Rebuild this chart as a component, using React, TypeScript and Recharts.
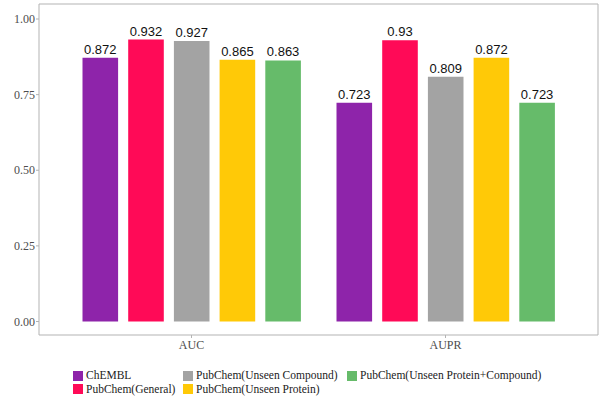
import { BarChart, Bar, XAxis, YAxis, LabelList } from "recharts";

const metrics = ["AUC", "AUPR"];
const chembl = [0.872, 0.723];
const pubGeneral = [0.932, 0.93];
const pubUnseenCompound = [0.927, 0.809];
const pubUnseenProtein = [0.865, 0.872];
const pubUnseenBoth = [0.863, 0.723];
const yTicks = [0, 0.25, 0.5, 0.75, 1];

const series = [
  { key: "chembl", name: "ChEMBL", color: "#8E24AA", values: chembl },
  { key: "general", name: "PubChem(General)", color: "#FF0A57", values: pubGeneral },
  { key: "unseenCompound", name: "PubChem(Unseen Compound)", color: "#A3A3A3", values: pubUnseenCompound },
  { key: "unseenProtein", name: "PubChem(Unseen Protein)", color: "#FFC907", values: pubUnseenProtein },
  { key: "unseenBoth", name: "PubChem(Unseen Protein+Compound)", color: "#66BB6A", values: pubUnseenBoth },
];

const data = metrics.map((m, i) => {
  const row: Record<string, string | number> = { metric: m };
  series.forEach((s) => {
    row[s.key] = s.values[i];
  });
  return row;
});

// legend laid out like ggplot's 2-row guide
const legendSlots = [
  { left: 73, top: 369 },
  { left: 73, top: 382.5 },
  { left: 183, top: 369 },
  { left: 183, top: 382.5 },
  { left: 347, top: 369 },
];

const BORDER = "#b3b3b3";
const serif = "'Liberation Serif', 'DejaVu Serif', serif";
const domain: [number, number] = [-0.0446, 1.0496];
const tickStyle = { fill: "#4d4d4d", fontFamily: serif, fontSize: 12, style: { fontFamily: serif } };

const YTick = (props: any) => {
  const { x, y, payload } = props;
  return (
    <text x={x} y={y} dy="0.35em" textAnchor="end" fill="#4d4d4d" fontSize={12} style={{ fontFamily: serif }}>
      {Number(payload.value).toFixed(2)}
    </text>
  );
};

export default function App() {
  return (
    <div style={{ position: "fixed", left: 0, top: 0, width: 602, height: 401, background: "#fff", fontFamily: serif }}>
      <BarChart
        width={602}
        height={401}
        data={data}
        margin={{ top: 3, right: 3, left: 0, bottom: 46 }}
        barSize={35.6}
        barGap={10.1}
        style={{ fontFamily: serif }}
      >
        <XAxis
          dataKey="metric"
          padding={{ left: 25.5, right: 25.5 }}
          height={20}
          tickSize={3}
          tickMargin={2}
          stroke={BORDER}
          tick={tickStyle}
        />
        <XAxis
          xAxisId="top"
          dataKey="metric"
          orientation="top"
          height={1}
          tick={false}
          tickLine={false}
          axisLine={{ stroke: BORDER }}
        />
        <YAxis
          width={39}
          domain={domain}
          allowDataOverflow
          ticks={yTicks}
          tickSize={3}
          tickMargin={1}
          stroke={BORDER}
          tick={<YTick />}
        />
        <YAxis
          yAxisId="right"
          orientation="right"
          width={1}
          domain={domain}
          allowDataOverflow
          tick={false}
          tickLine={false}
          axisLine={{ stroke: BORDER }}
        />
        {series.map((s) => (
          <Bar key={s.key} dataKey={s.key} name={s.name} fill={s.color} isAnimationActive={false}>
            <LabelList
              dataKey={s.key}
              position="top"
              offset={4}
              formatter={(v: number) => String(v)}
              style={{ fill: "#111", fontFamily: "'Liberation Sans', Arial, sans-serif", fontSize: 13 }}
            />
          </Bar>
        ))}
      </BarChart>
      {series.map((s, i) => (
        <div
          key={s.key}
          style={{
            position: "absolute",
            left: legendSlots[i].left,
            top: legendSlots[i].top,
            display: "flex",
            alignItems: "center",
            height: 13,
            whiteSpace: "nowrap",
          }}
        >
          <span style={{ width: 10, height: 10, background: s.color, display: "inline-block", marginRight: 3 }} />
          <span style={{ fontFamily: serif, fontSize: 11.5, color: "#222", lineHeight: "13px" }}>{s.name}</span>
        </div>
      ))}
    </div>
  );
}
